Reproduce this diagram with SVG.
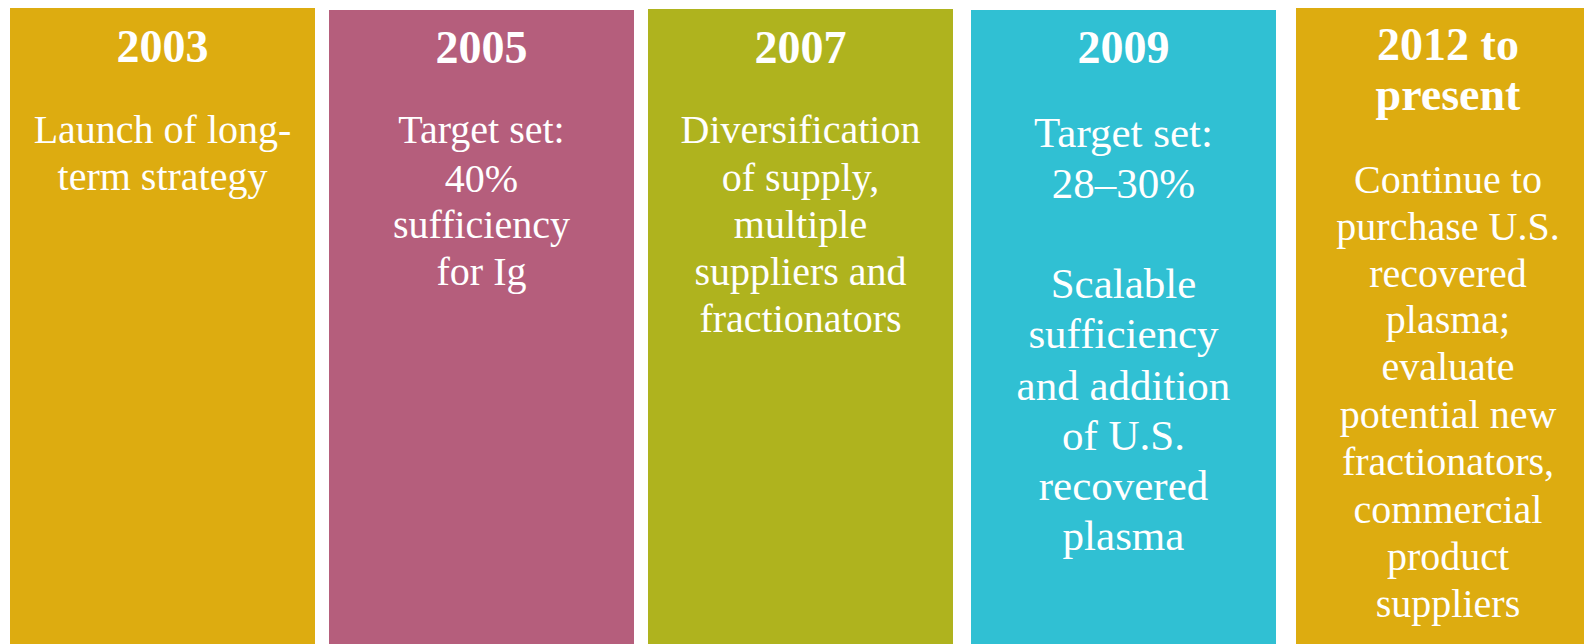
<svg xmlns="http://www.w3.org/2000/svg" width="1584" height="644" viewBox="0 0 1584 644">
<style>
text{fill:#ffffff;font-family:"Liberation Serif","Times New Roman",serif;text-anchor:middle}
.y{font-weight:bold;font-size:46px}
.b{font-size:40px}
.b4{font-size:43px}
</style>
<rect width="1584" height="644" fill="#ffffff"/>
<g id="col2003">
<rect x="10" y="8" width="305" height="640" fill="#DDAC10"/>
<text class="y" x="162.5" y="62">2003</text>
<text class="b" x="162.5" y="143">Launch of long-</text>
<text class="b" x="162.5" y="190">term strategy</text>
</g>
<g id="col2005">
<rect x="329" y="10" width="305" height="640" fill="#B55E7C"/>
<text class="y" x="481.5" y="63">2005</text>
<text class="b" x="481.5" y="143">Target set:</text>
<text class="b" x="481.5" y="192">40%</text>
<text class="b" x="481.5" y="238">sufficiency</text>
<text class="b" x="481.5" y="285">for Ig</text>
</g>
<g id="col2007">
<rect x="648" y="9" width="305" height="640" fill="#AFB31E"/>
<text class="y" x="800.5" y="63">2007</text>
<text class="b" x="800.5" y="143">Diversification</text>
<text class="b" x="800.5" y="191">of supply,</text>
<text class="b" x="800.5" y="238">multiple</text>
<text class="b" x="800.5" y="285">suppliers and</text>
<text class="b" x="800.5" y="332">fractionators</text>
</g>
<g id="col2009">
<rect x="971" y="10" width="305" height="640" fill="#30C0D3"/>
<text class="y" x="1123.5" y="63">2009</text>
<text class="b4" x="1123.5" y="147">Target set:</text>
<text class="b4" x="1123.5" y="198">28–30%</text>
<text class="b4" x="1123.5" y="298">Scalable</text>
<text class="b4" x="1123.5" y="348">sufficiency</text>
<text class="b4" x="1123.5" y="400">and addition</text>
<text class="b4" x="1123.5" y="450">of U.S.</text>
<text class="b4" x="1123.5" y="500">recovered</text>
<text class="b4" x="1123.5" y="550">plasma</text>
</g>
<g id="col2012">
<rect x="1296" y="8" width="310" height="640" fill="#DDAC10"/>
<text class="y" x="1448" y="60">2012 to</text>
<text class="y" x="1448" y="110">present</text>
<text class="b" x="1448" y="193">Continue to</text>
<text class="b" x="1448" y="240">purchase U.S.</text>
<text class="b" x="1448" y="287">recovered</text>
<text class="b" x="1448" y="333">plasma;</text>
<text class="b" x="1448" y="380">evaluate</text>
<text class="b" x="1448" y="428">potential new</text>
<text class="b" x="1448" y="475">fractionators,</text>
<text class="b" x="1448" y="523">commercial</text>
<text class="b" x="1448" y="570">product</text>
<text class="b" x="1448" y="617">suppliers</text>
</g>
<g id="connectors"></g>
</svg>
